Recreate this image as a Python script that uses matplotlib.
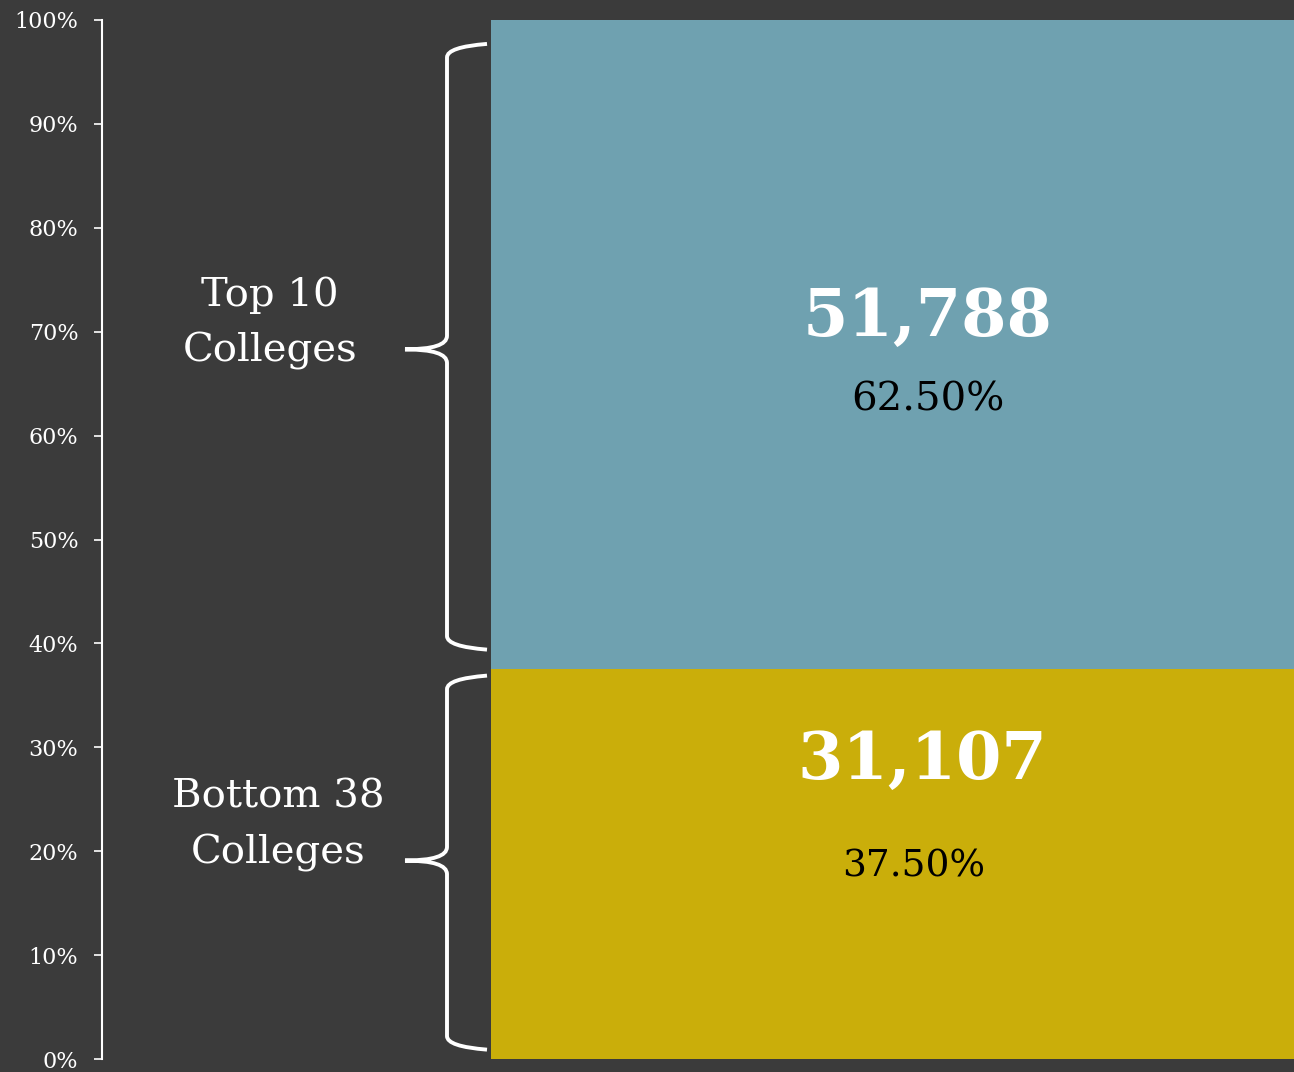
import matplotlib
matplotlib.use('Agg')
import matplotlib.pyplot as plt
from matplotlib.path import Path
from matplotlib.patches import PathPatch

plt.rcParams['font.family'] = ['DejaVu Serif']

# 数据
groups = ['Bottom 38\nColleges', 'Top 10\nColleges']
counts = [31107, 51788]
shares = [37.50, 62.50]
colors = ['#caae0a', '#6fa1b0']
ticks = list(range(0, 101, 10))

BG = '#3b3b3b'
fig = plt.figure(figsize=(12.94, 10.72), dpi=100, facecolor=BG)
ax = fig.add_axes([102 / 1294, 13 / 1072, 1192 / 1294, 1039 / 1072])
ax.set_facecolor(BG)
ax.set_xlim(0, 1192)
ax.set_ylim(0, 100)

# 堆叠柱
bottom = 0
for cnt, sh, col in zip(counts, shares, colors):
    ax.bar(389, sh, width=803, bottom=bottom, color=col, align='edge', linewidth=0)
    bottom += sh

# 数值标签
ax.text(826, shares[0] + shares[1] * 0.5 + 2.6, f'{counts[1]:,}', ha='center', va='center',
        color='white', fontsize=47, fontweight='bold')
ax.text(826, shares[0] + shares[1] * 0.5 - 5.3, f'{shares[1]:.2f}%', ha='center', va='center',
        color='black', fontsize=29)
ax.text(820, shares[0] * 0.5 + 9.9, f'{counts[0]:,}', ha='center', va='center',
        color='white', fontsize=47, fontweight='bold')
ax.text(812, shares[0] * 0.5 - 0.2, f'{shares[0]:.2f}%', ha='center', va='center',
        color='black', fontsize=27)


def brace(y0, y1, ym):
    xe, xv, xt, r = 385, 345, 303, 1.3
    verts = [(xe, y1), (xv, y1 - 0.3), (xv, y1 - r),
             (xv, ym + r), (xv, ym), (xt, ym),
             (xv, ym), (xv, ym - r),
             (xv, y0 + r), (xv, y0 + 0.3), (xe, y0)]
    codes = [Path.MOVETO, Path.CURVE3, Path.CURVE3,
             Path.LINETO, Path.CURVE3, Path.CURVE3,
             Path.CURVE3, Path.CURVE3,
             Path.LINETO, Path.CURVE3, Path.CURVE3]
    ax.add_patch(PathPatch(Path(verts, codes), fill=False, edgecolor='white', lw=2.8))


brace(39.4, 97.7, 68.3)
brace(0.9, 36.9, 19.1)

ax.text(168, 70.8, groups[1], ha='center', va='center', color='white',
        fontsize=29, linespacing=1.6)
ax.text(176, 22.5, groups[0], ha='center', va='center', color='white',
        fontsize=29, linespacing=1.6)

# 坐标轴
for s in ['top', 'right', 'bottom']:
    ax.spines[s].set_visible(False)
ax.spines['left'].set_color('white')
ax.spines['left'].set_linewidth(1.5)
ax.set_xticks([])
ax.set_yticks(ticks)
ax.set_yticklabels([f'{t}%' for t in ticks])
ax.tick_params(axis='y', colors='white', labelsize=16, length=6, width=1.2, pad=11)

fig.savefig('out.png', dpi=100, facecolor=BG)
